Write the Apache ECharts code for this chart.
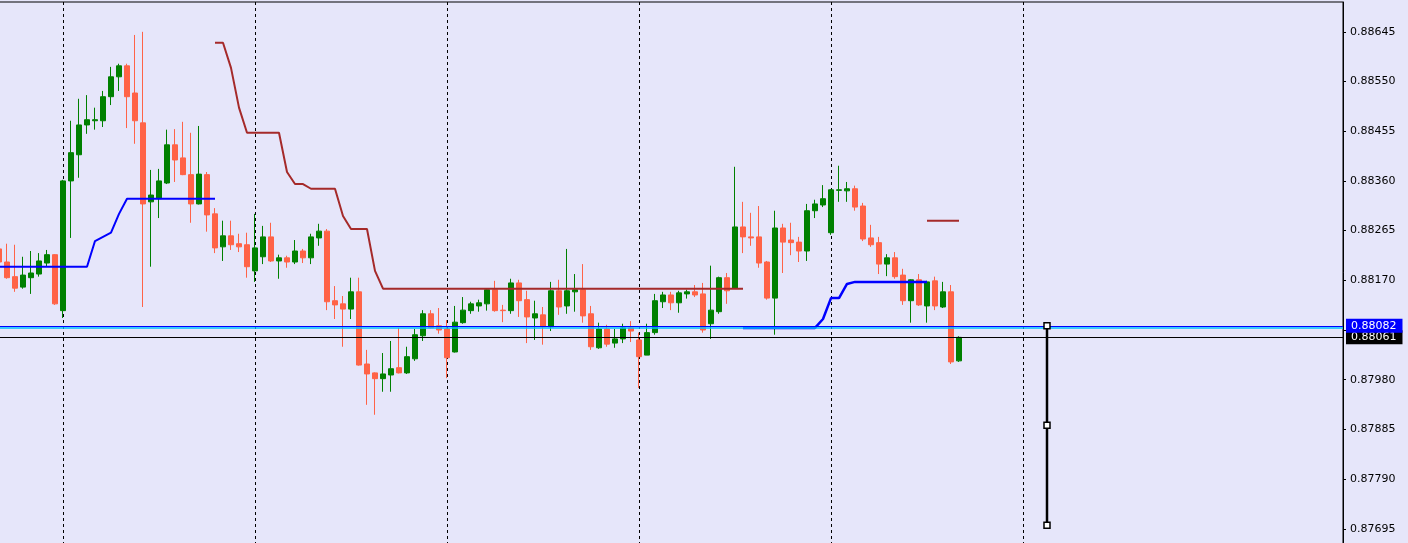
<!DOCTYPE html>
<html>
<head>
<meta charset="utf-8">
<script src="https://cdn.jsdelivr.net/npm/echarts@6/dist/echarts.min.js"></script>
<style>
html,body{margin:0;padding:0;background:#E6E6FA;}
#chart{width:1408px;height:543px;}
</style>
</head>
<body>
<div id="chart"></div>
<script>
// ---- data ----
// bar slots on the x axis (hourly bars, day separators every 24 bars)
const barSlots = Array.from({length: 169}, (_, i) => String(i));
const daySeparatorBars = [8, 32, 56, 80, 104, 128];

// candles: [open, close, low, high]
const ohlc = [
[0.88230,0.88205,0.88200,0.88238],
[0.88205,0.88175,0.88173,0.88240],
[0.88177,0.88155,0.88148,0.88238],
[0.88157,0.88180,0.88154,0.88215],
[0.88175,0.88184,0.88144,0.88226],
[0.88182,0.88207,0.88177,0.88222],
[0.88203,0.88219,0.88196,0.88228],
[0.88219,0.88125,0.88123,0.88220],
[0.88112,0.88360,0.88098,0.88362],
[0.88360,0.88414,0.88251,0.88475],
[0.88410,0.88467,0.88366,0.88517],
[0.88467,0.88477,0.88450,0.88524],
[0.88475,0.88477,0.88458,0.88500],
[0.88475,0.88521,0.88463,0.88532],
[0.88521,0.88559,0.88505,0.88578],
[0.88559,0.88580,0.88532,0.88584],
[0.88580,0.88521,0.88461,0.88584],
[0.88528,0.88475,0.88431,0.88639],
[0.88471,0.88316,0.88119,0.88645],
[0.88320,0.88333,0.88196,0.88381],
[0.88326,0.88360,0.88289,0.88383],
[0.88356,0.88429,0.88354,0.88458],
[0.88429,0.88400,0.88358,0.88459],
[0.88404,0.88372,0.88371,0.88473],
[0.88372,0.88316,0.88280,0.88452],
[0.88316,0.88373,0.88315,0.88465],
[0.88372,0.88295,0.88263,0.88377],
[0.88297,0.88232,0.88222,0.88308],
[0.88234,0.88255,0.88207,0.88284],
[0.88255,0.88238,0.88228,0.88284],
[0.88240,0.88234,0.88224,0.88259],
[0.88238,0.88196,0.88175,0.88261],
[0.88188,0.88232,0.88167,0.88297],
[0.88215,0.88253,0.88201,0.88274],
[0.88253,0.88207,0.88205,0.88280],
[0.88207,0.88213,0.88173,0.88219],
[0.88213,0.88205,0.88194,0.88217],
[0.88205,0.88226,0.88201,0.88247],
[0.88226,0.88213,0.88203,0.88230],
[0.88213,0.88253,0.88201,0.88259],
[0.88251,0.88264,0.88236,0.88278],
[0.88264,0.88129,0.88113,0.88268],
[0.88131,0.88123,0.88096,0.88159],
[0.88125,0.88115,0.88043,0.88140],
[0.88115,0.88148,0.88096,0.88175],
[0.88148,0.88008,0.88007,0.88175],
[0.88010,0.87991,0.87932,0.88037],
[0.87993,0.87982,0.87913,0.87994],
[0.87982,0.87991,0.87957,0.88031],
[0.87989,0.88001,0.87957,0.88054],
[0.88003,0.87993,0.87992,0.88079],
[0.87993,0.88024,0.87991,0.88043],
[0.88020,0.88066,0.88016,0.88077],
[0.88064,0.88106,0.88054,0.88113],
[0.88106,0.88079,0.88078,0.88113],
[0.88083,0.88075,0.88068,0.88117],
[0.88077,0.88022,0.87983,0.88094],
[0.88033,0.88090,0.88032,0.88121],
[0.88089,0.88113,0.88087,0.88138],
[0.88112,0.88125,0.88106,0.88129],
[0.88121,0.88127,0.88110,0.88133],
[0.88125,0.88152,0.88112,0.88155],
[0.88152,0.88112,0.88110,0.88169],
[0.88113,0.88112,0.88090,0.88123],
[0.88112,0.88165,0.88106,0.88173],
[0.88165,0.88131,0.88100,0.88171],
[0.88133,0.88100,0.88050,0.88150],
[0.88098,0.88106,0.88056,0.88131],
[0.88104,0.88081,0.88047,0.88119],
[0.88081,0.88150,0.88073,0.88167],
[0.88150,0.88119,0.88104,0.88171],
[0.88121,0.88150,0.88106,0.88230],
[0.88148,0.88152,0.88110,0.88182],
[0.88152,0.88102,0.88089,0.88201],
[0.88106,0.88043,0.88037,0.88121],
[0.88041,0.88077,0.88039,0.88089],
[0.88077,0.88048,0.88043,0.88085],
[0.88050,0.88058,0.88041,0.88077],
[0.88058,0.88079,0.88050,0.88087],
[0.88079,0.88073,0.88052,0.88092],
[0.88056,0.88024,0.87964,0.88070],
[0.88027,0.88070,0.88027,0.88087],
[0.88070,0.88131,0.88066,0.88144],
[0.88129,0.88142,0.88117,0.88148],
[0.88142,0.88127,0.88113,0.88148],
[0.88127,0.88146,0.88108,0.88150],
[0.88144,0.88148,0.88135,0.88152],
[0.88148,0.88142,0.88138,0.88161],
[0.88144,0.88075,0.88070,0.88165],
[0.88087,0.88113,0.88058,0.88198],
[0.88110,0.88175,0.88106,0.88177],
[0.88175,0.88150,0.88125,0.88184],
[0.88155,0.88272,0.88154,0.88387],
[0.88272,0.88253,0.88222,0.88320],
[0.88253,0.88251,0.88236,0.88299],
[0.88253,0.88203,0.88194,0.88312],
[0.88205,0.88136,0.88133,0.88207],
[0.88136,0.88270,0.88066,0.88303],
[0.88270,0.88243,0.88184,0.88278],
[0.88247,0.88242,0.88218,0.88280],
[0.88243,0.88226,0.88205,0.88253],
[0.88226,0.88303,0.88207,0.88316],
[0.88303,0.88316,0.88289,0.88324],
[0.88314,0.88326,0.88310,0.88352],
[0.88261,0.88343,0.88257,0.88344],
[0.88342,0.88343,0.88320,0.88389],
[0.88341,0.88345,0.88320,0.88358],
[0.88345,0.88310,0.88303,0.88351],
[0.88312,0.88249,0.88245,0.88318],
[0.88251,0.88238,0.88234,0.88276],
[0.88242,0.88201,0.88182,0.88253],
[0.88201,0.88213,0.88178,0.88220],
[0.88213,0.88177,0.88173,0.88224],
[0.88180,0.88131,0.88123,0.88192],
[0.88131,0.88171,0.88089,0.88172],
[0.88171,0.88123,0.88121,0.88182],
[0.88121,0.88167,0.88089,0.88169],
[0.88169,0.88121,0.88113,0.88177],
[0.88119,0.88148,0.88117,0.88167],
[0.88148,0.88014,0.88010,0.88161],
[0.88016,0.88061,0.88014,0.88063]
];

// indicator lines: [bar, price]
const brownUpper1 = [[27,0.88624],[28,0.88624],[29,0.88576],[30,0.88500],[31,0.88452],[32,0.88452],[33,0.88452],[34,0.88452],[35,0.88452],[36,0.88377],[37,0.88354],[38,0.88354],[39,0.88345],[40,0.88345],[41,0.88345],[42,0.88345],[43,0.88293],[44,0.88268],[45,0.88268],[46,0.88268],[47,0.88188],[48,0.88154],[93,0.88154]];
const brownUpper2 = [[116,0.88284],[120,0.88284]];
const blueLower1 = [[0,0.88196],[11,0.88196],[12,0.88245],[13,0.88253],[14,0.88261],[15,0.88297],[16,0.88326],[27,0.88326]];
const blueLower2 = [[93,0.88079],[102,0.88079],[103,0.88096],[104,0.88136],[105,0.88136],[106,0.88163],[107,0.88167],[116,0.88167]];

// horizontal price lines
const bidPrice = 0.88061;
const levelPrice = 0.88083;
const levelLabel = '0.88082';
const levelShadowPrice = 0.880795;

// vertical trendline with anchors
const trendline = [[131,0.88083],[131,0.87893],[131,0.87702]];

// y axis
const yMin = 0.87600, yMax = 0.88702, yStep = 0.00095;

// ---- chart ----
const FONT = 'DejaVu Sans';
const boxLabel = (text, bg) => ({show: true, position: 'end', distance: 3, formatter: text,
  color: '#fff', backgroundColor: bg, padding: [2, 6, 1, 5], fontFamily: FONT, fontSize: 11});

const chart = echarts.init(document.getElementById('chart'), null, {renderer: 'canvas'});
chart.setOption({
  animation: false,
  backgroundColor: '#E6E6FA',
  grid: {left: -1, right: 65, top: 2, bottom: -35.5, containLabel: false, outerBoundsMode: 'none',
         show: true, borderColor: '#000', borderWidth: 1, backgroundColor: 'transparent'},
  xAxis: {
    type: 'category', data: barSlots, boundaryGap: false,
    axisLine: {show: false}, axisTick: {show: false}, axisLabel: {show: false},
    splitLine: {show: true, interval: (idx) => daySeparatorBars.includes(idx),
      lineStyle: {color: '#000', width: 1, type: [3, 3]}}
  },
  yAxis: {
    type: 'value', position: 'right', min: yMin, max: yMax, interval: yStep, scale: true,
    axisLine: {show: true, lineStyle: {color: '#000', width: 1}},
    axisTick: {show: true, length: 3, lineStyle: {color: '#000'}},
    splitLine: {show: false},
    axisLabel: {show: true, margin: 7, color: '#000', fontFamily: FONT, fontSize: 11,
      showMinLabel: false, showMaxLabel: false,
      formatter: (v) => v.toFixed(5)}
  },
  series: [
    {
      type: 'candlestick', data: ohlc, barWidth: 5, silent: true,
      itemStyle: {color: '#008000', color0: '#FF6347', borderColor: '#008000', borderColor0: '#FF6347', borderWidth: 1},
      markLine: {symbol: 'none', silent: true, animation: false, precision: 6,
        data: [
          {yAxis: bidPrice, lineStyle: {color: '#000', width: 1, type: 'solid'},
           label: boxLabel(bidPrice.toFixed(5), '#000')},
          {yAxis: levelPrice, lineStyle: {color: '#0000FF', width: 1, type: 'solid'},
           label: boxLabel(levelLabel, '#0000FF')},
          {yAxis: levelShadowPrice, lineStyle: {color: '#00BFFF', width: 1.5, type: 'solid'},
           label: {show: false}}
        ]
      }
    },
    {type: 'line', data: brownUpper1, showSymbol: false, silent: true, lineStyle: {color: '#A52A2A', width: 2}},
    {type: 'line', data: brownUpper2, showSymbol: false, silent: true, lineStyle: {color: '#A52A2A', width: 2}},
    {type: 'line', data: blueLower1, showSymbol: false, silent: true, lineStyle: {color: '#0000FF', width: 2}},
    {type: 'line', data: blueLower2, showSymbol: false, silent: true, lineStyle: {color: '#0000FF', width: 2.5}},
    {
      type: 'line', data: trendline, silent: true, symbol: 'rect', symbolSize: 6,
      showSymbol: true, showAllSymbol: true,
      lineStyle: {color: '#000', width: 2.5},
      itemStyle: {color: '#fff', borderColor: '#000', borderWidth: 1.5},
      z: 5
    }
  ]
});
</script>
</body>
</html>
